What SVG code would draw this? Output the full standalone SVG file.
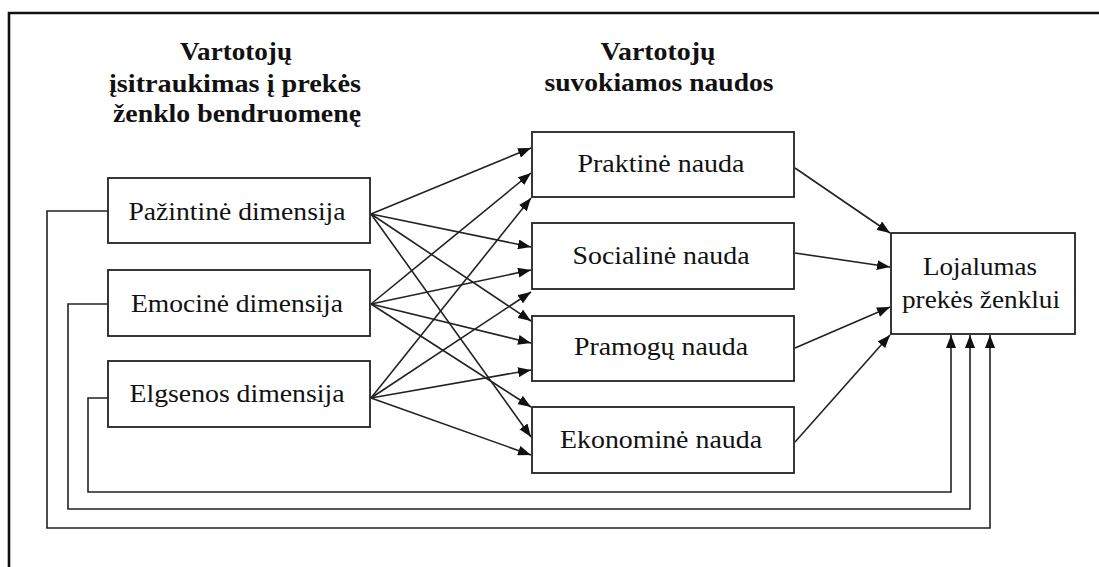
<svg xmlns="http://www.w3.org/2000/svg" width="1099" height="567" viewBox="0 0 1099 567">
<style>
.box{fill:#fff;stroke:#222;stroke-width:1.8}
.lbl{font-family:'Liberation Serif','Times New Roman',serif;font-size:26px;fill:#111;text-anchor:middle}
.hdr{font-family:'Liberation Serif','Times New Roman',serif;font-size:26px;font-weight:bold;fill:#111;text-anchor:middle}
.ln{fill:none;stroke:#222;stroke-width:1.6}
.arr{fill:none;stroke:#222;stroke-width:1.6;marker-end:url(#ah)}
.frame{fill:none;stroke:#111;stroke-width:2.6}
</style>
<defs>
<marker id="ah" markerWidth="14" markerHeight="10" refX="13" refY="5" orient="auto" markerUnits="userSpaceOnUse">
<path d="M0,0 L13,5 L0,10 z" fill="#111"/>
</marker>
</defs>
<rect width="1099" height="567" fill="#fff"/>
<path class="frame" d="M9,567 V13 H1099"/>

<g id="headers" font-family="Liberation Serif, serif">
<text class="hdr" x="236" y="60" textLength="112" lengthAdjust="spacingAndGlyphs">Vartotojų</text>
<text class="hdr" x="235" y="92" textLength="252" lengthAdjust="spacingAndGlyphs">įsitraukimas į prekės</text>
<text class="hdr" x="237" y="122" textLength="248" lengthAdjust="spacingAndGlyphs">ženklo bendruomenę</text>
<text class="hdr" x="658" y="60" textLength="115" lengthAdjust="spacingAndGlyphs">Vartotojų</text>
<text class="hdr" x="659" y="91" textLength="229" lengthAdjust="spacingAndGlyphs">suvokiamos naudos</text>
</g>

<g id="connectors">
<path class="arr" d="M371,214 L531,148"/>
<path class="arr" d="M371,304 L531,173"/>
<path class="arr" d="M371,398 L531,198"/>
<path class="arr" d="M371,214 L531,247"/>
<path class="arr" d="M371,304 L531,270"/>
<path class="arr" d="M371,398 L531,292"/>
<path class="arr" d="M371,214 L531,321"/>
<path class="arr" d="M371,304 L531,343"/>
<path class="arr" d="M371,398 L531,370"/>
<path class="arr" d="M371,304 L531,407"/>
<path class="arr" d="M371,214 L531,437"/>
<path class="arr" d="M371,398 L531,455"/>
<path class="arr" d="M795,168 L890,233"/>
<path class="arr" d="M795,253 L890,267"/>
<path class="arr" d="M795,348 L890,307"/>
<path class="arr" d="M795,442 L890,335"/>
<path class="arr" d="M108,211 H47 V528 H990 V335"/>
<path class="arr" d="M108,304 H68 V509 H970 V335"/>
<path class="arr" d="M108,398 H88 V492 H951 V335"/>
</g>

<g id="pazintine" font-family="Liberation Serif, serif">
<rect class="box" x="108" y="178" width="262" height="65"/>
<text class="lbl" x="237" y="220" textLength="217" lengthAdjust="spacingAndGlyphs">Pažintinė dimensija</text>
</g>
<g id="emocine" font-family="Liberation Serif, serif">
<rect class="box" x="108" y="270" width="262" height="66"/>
<text class="lbl" x="237" y="312" textLength="212" lengthAdjust="spacingAndGlyphs">Emocinė dimensija</text>
</g>
<g id="elgsenos" font-family="Liberation Serif, serif">
<rect class="box" x="108" y="361" width="262" height="66"/>
<text class="lbl" x="237" y="402" textLength="215" lengthAdjust="spacingAndGlyphs">Elgsenos dimensija</text>
</g>

<g id="praktine" font-family="Liberation Serif, serif">
<rect class="box" x="532" y="132" width="262" height="65"/>
<text class="lbl" x="661" y="172" textLength="167" lengthAdjust="spacingAndGlyphs">Praktinė nauda</text>
</g>
<g id="socialine" font-family="Liberation Serif, serif">
<rect class="box" x="532" y="223" width="262" height="66"/>
<text class="lbl" x="661" y="264" textLength="177" lengthAdjust="spacingAndGlyphs">Socialinė nauda</text>
</g>
<g id="pramogu" font-family="Liberation Serif, serif">
<rect class="box" x="532" y="316" width="262" height="65"/>
<text class="lbl" x="661" y="355" textLength="174" lengthAdjust="spacingAndGlyphs">Pramogų nauda</text>
</g>
<g id="ekonomine" font-family="Liberation Serif, serif">
<rect class="box" x="532" y="407" width="262" height="66"/>
<text class="lbl" x="661" y="448" textLength="202" lengthAdjust="spacingAndGlyphs">Ekonominė nauda</text>
</g>

<g id="lojalumas" font-family="Liberation Serif, serif">
<rect class="box" x="891" y="233" width="184" height="101"/>
<text class="lbl" x="980" y="275" textLength="114" lengthAdjust="spacingAndGlyphs">Lojalumas</text>
<text class="lbl" x="981" y="308" textLength="158" lengthAdjust="spacingAndGlyphs">prekės ženklui</text>
</g>
</svg>
